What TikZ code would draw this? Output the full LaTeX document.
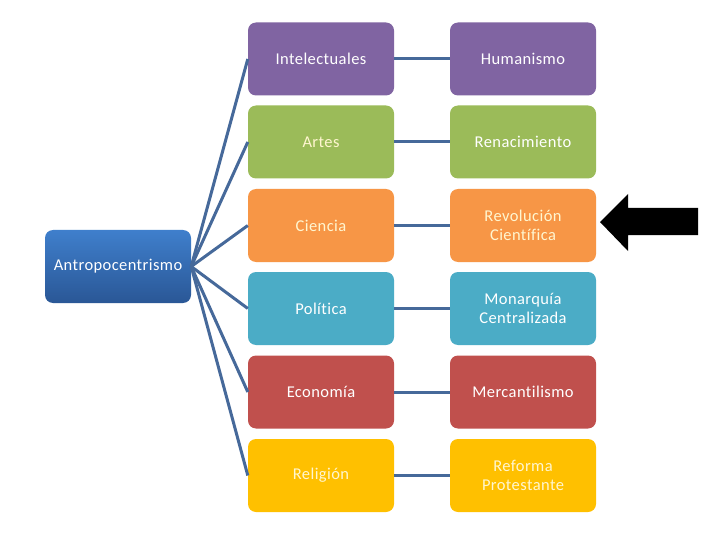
\documentclass[tikz,border=0pt]{standalone}
\usepackage{fontspec}
\setmainfont{Carlito}[Ligatures=NoCommon,LetterSpace=2.5]
\definecolor{cpurple}{HTML}{8064A2}
\definecolor{cgreen}{HTML}{9BBB59}
\definecolor{corange}{HTML}{F79646}
\definecolor{ccyan}{HTML}{4BACC6}
\definecolor{cred}{HTML}{C0504D}
\definecolor{cgold}{HTML}{FFC000}
\definecolor{rtop}{HTML}{3F7FCC}
\definecolor{rbot}{HTML}{2A5796}
\definecolor{cline}{HTML}{46699A}
\definecolor{cream}{HTML}{FFF6D0}
\begin{document}
\begin{tikzpicture}[x=1pt,y=-1pt,
  box/.style={rectangle,rounded corners=8pt,minimum width=146pt,minimum height=73pt,
    inner sep=0pt,align=center,text=white,font=\fontsize{16.5}{19.5}\selectfont},
  conn/.style={draw=cline,line width=3pt}]
\useasboundingbox (0,0) rectangle (720,540);
\fill[white] (0,0) rectangle (720,540);
% root
\node[box,top color=rtop,bottom color=rbot,text width=146pt] (root) at (118,266.5) {Antropocentrismo};
% left column
\node[box,fill=cpurple] (a1) at (321,59) {Intelectuales};
\node[box,fill=cgreen,text=cream] (a2) at (321,142) {Artes};
\node[box,fill=corange,text=cream] (a3) at (321,225.5) {Ciencia};
\node[box,fill=ccyan] (a4) at (321,308.5) {Política};
\node[box,fill=cred] (a5) at (321,392) {Economía};
\node[box,fill=cgold,text=cream] (a6) at (321,475.5) {Religión};
% right column
\node[box,fill=cpurple] (b1) at (523,59) {Humanismo};
\node[box,fill=cgreen] (b2) at (523,142) {Renacimiento};
\node[box,fill=corange,text=cream] (b3) at (523,225.5) {Revolución\\Científica};
\node[box,fill=ccyan] (b4) at (523,308.5) {Monarquía\\Centralizada};
\node[box,fill=cred] (b5) at (523,392) {Mercantilismo};
\node[box,fill=cgold,text=cream] (b6) at (523,475.5) {Reforma\\Protestante};
% connectors
\foreach \i in {1,...,6}{
  \draw[conn] (root.east) -- (a\i.west);
  \draw[conn] (a\i.east) -- (b\i.west);
}
% black arrow
\fill[black] (600,222) -- (628,194) -- (628,208) -- (698,208) -- (698,235) -- (628,235) -- (628,251) -- cycle;
\end{tikzpicture}
\end{document}
